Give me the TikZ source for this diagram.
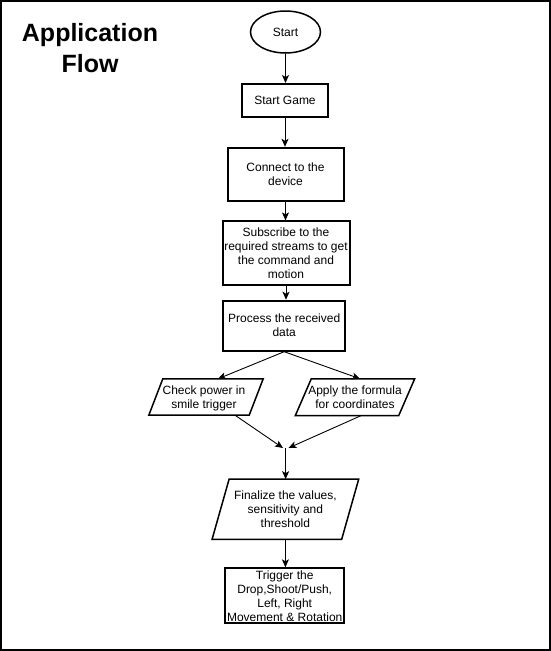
\documentclass[tikz,border=0pt]{standalone}
\usepackage{fontspec}
\setmainfont{Liberation Sans}
\usetikzlibrary{arrows.meta,shapes.geometric}
\tikzset{
  txt/.style={font=\fontsize{12}{14}\selectfont, align=center, inner sep=0pt},
  box/.style={txt, draw, line width=2pt, minimum width=#1},
  paraholder/.style={txt, minimum width=#1},
  shapeline/.style={line width=1.5pt, line join=miter},
  conn/.style={line width=0.9pt, -{Stealth[length=8pt,width=7pt,inset=2pt]}}
}
\newcommand\myparallelo[2]{%
  \draw[shapeline] ([xshift=-#2pt]#1.south west) -- ([xshift=-#2pt]#1.south east)
    -- ([xshift=#2pt]#1.north east) -- ([xshift=#2pt]#1.north west) -- cycle;}
\begin{document}
\begin{tikzpicture}[x=1pt,y=-1pt]
\useasboundingbox (0,0) rectangle (551,651);
\draw[line width=2pt] (1,1) rectangle (550,650);

\node[font=\bfseries\fontsize{25}{30.5}\selectfont, align=center, inner sep=0pt] (title) at (90,48) {Application\\Flow};

\node[txt, draw, ellipse, line width=1.5pt, minimum width=70pt, minimum height=42pt] (start) at (285.5,32) {Start};
\node[box=86pt, minimum height=33pt] (game) at (285,100.5) {Start Game};
\node[box=116pt, minimum height=53pt] (connect) at (285.5,174.3) {Connect to the\\device};
\node[box=127pt, minimum height=64pt] (sub) at (286,253.4) {Subscribe to the\\required streams to get\\the command and\\motion};
\node[box=122pt, minimum height=50pt] (proc) at (284.2,325.7) {Process the received\\data};

\node[paraholder=100pt, minimum height=36pt] (check) at (206,397) {};
\node[txt] (checkt) at (204,398) {Check power in\\smile trigger};
\myparallelo{check}{7}
\node[paraholder=103pt, minimum height=36.5pt] (apply) at (355,397.2) {Apply the formula\\for coordinates};
\myparallelo{apply}{8}

\node[paraholder=129.2pt, minimum height=59.7pt] (fin) at (285.4,509.2) {Finalize the values,\\sensitivity and\\threshold};
\myparallelo{fin}{8.5}
\node[box=119pt, minimum height=55pt] (trig) at (284.7,595.8) {Trigger the\\Drop,Shoot/Push,\\Left, Right\\Movement \& Rotation};

\coordinate (mL) at (283,448);
\coordinate (mR) at (288.5,448);
\coordinate (merge) at (285.6,448);

\draw[conn] (start.south) -- (start.south |- game.north);
\draw[conn] (game.south) -- (game.south |- connect.north);
\draw[conn] (connect.south) -- (connect.south |- sub.north);
\draw[conn] (sub.south) -- (sub.south |- proc.north);
\draw[conn] (proc.south) -- ([xshift=12pt]check.north);
\draw[conn] (proc.south) -- ([xshift=5pt]apply.north);
\draw[conn] ([xshift=29pt]check.south) -- (mL);
\draw[conn] ([xshift=6pt]apply.south) -- (mR);
\draw[conn] (merge) -- (merge |- fin.north);
\draw[conn] (fin.south) -- (fin.south |- trig.north);
\end{tikzpicture}
\end{document}
